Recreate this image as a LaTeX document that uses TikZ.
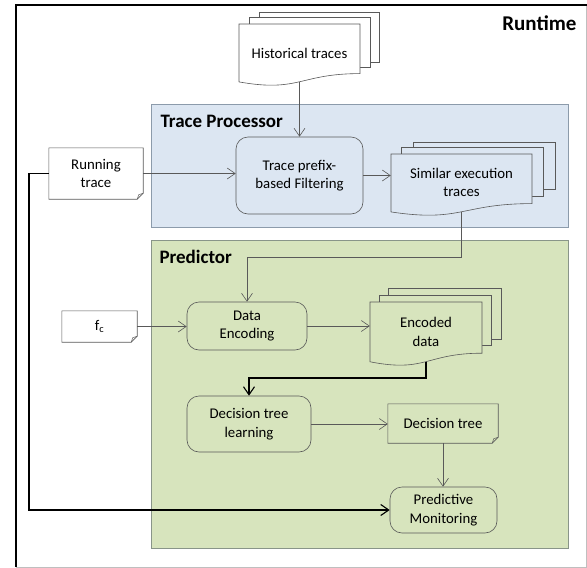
\documentclass[tikz,border=0pt]{standalone}
\usepackage{fontspec}
\setmainfont{Carlito}
\usepackage{tikz}
\usetikzlibrary{arrows.meta}

\definecolor{procblue}{HTML}{DCE6F2}
\definecolor{predgreen}{HTML}{D7E4BD}
\definecolor{edgegray}{HTML}{595959}
\definecolor{panelgray}{HTML}{8C9BAB}

\tikzset{
  every node/.style={font=\fontsize{14.8}{18.5}\selectfont, align=center},
  title/.style={font=\fontsize{19}{22}\selectfont\bfseries},
  roundbox/.style={draw=edgegray, line width=0.6pt, rounded corners=12pt},
  notebox/.style={rectangle, inner sep=0pt},
  doc/.style={draw=edgegray, line width=0.6pt},
  arr/.style={draw=edgegray, line width=0.6pt, -{Straight Barb[length=8pt,width=11pt]}},
  bigarr/.style={draw=black, line width=1.1pt, -{Straight Barb[length=8pt,width=11pt]}}
}

% front page of a document stack: fill, x1, y1, x2, height
\newcommand{\docpage}[5]{%
  \filldraw[doc, fill=#1] (#2,#3) -- (#4,#3) -- ({#4},{#3+0.8*#5})
    .. controls ({(#2+#4)/2},{#3+0.8*#5}) and ({(#2+#4)/2},{#3+1.107*#5}) ..
    ({#2},{#3+0.934*#5}) -- cycle;}

% outline of a note with folded corner: node name, fill
\newcommand{\notefold}[2]{%
  \filldraw[doc, fill=#2] (#1.north west) -- (#1.north east) -- ([yshift=6pt]#1.south east)
    -- ([xshift=-6pt]#1.south east) -- (#1.south west) -- cycle;
  \draw[edgegray, line width=0.5pt] ([yshift=6pt]#1.south east)
    -- ([xshift=-4.5pt,yshift=4.5pt]#1.south east) -- ([xshift=-6pt]#1.south east);}

\begin{document}
\begin{tikzpicture}[x=1pt, y=-1pt]
  \useasboundingbox (0,0) rectangle (587,568);

  % frame
  \draw[black!25, line width=0.8pt] (586,4.5) -- (586,567) -- (15.5,567);
  \draw[line width=2pt] (15.5,567) -- (15.5,4.5) -- (587,4.5);

  % panels
  \filldraw[fill=procblue, draw=panelgray, line width=0.8pt] (151,104) rectangle (568,227);
  \filldraw[fill=predgreen, draw=panelgray!80!olive, line width=0.8pt] (151,240) rectangle (568,548);

  \node[title, anchor=east] (rtlabel) at (580,23) {\fontsize{21}{24}\selectfont Runtime};
  \node[title, anchor=west] (tplabel) at (157,121) {Trace Processor};
  \node[title, anchor=west] (predlabel) at (156,257) {Predictor};

  % document stacks
  \filldraw[doc, fill=white] (259,12) rectangle (379,62);
  \filldraw[doc, fill=white] (249,17) rectangle (370,67);
  \docpage{white}{239}{24}{360}{62}

  \filldraw[doc, fill=procblue] (413,142) rectangle (555,189);
  \filldraw[doc, fill=procblue] (401,147) rectangle (543,196);
  \docpage{procblue}{391}{154}{532}{62}

  \filldraw[doc, fill=predgreen] (388,288) rectangle (501,339);
  \filldraw[doc, fill=predgreen] (379,295) rectangle (491,345);
  \docpage{predgreen}{370}{302}{482}{64}

  \coordinate (histb) at (299.5,81.8);
  \coordinate (simb) at (461.5,211.8);
  \coordinate (encdb) at (426,361.6);
  \coordinate (predrow) at (0,257);
  \coordinate (dtlrow) at (0,378);
  \coordinate (leftrail) at (29,0);

  % notes
  \path (96,173.5) node[notebox, minimum width=94pt, minimum height=51pt] (run) {};
  \path (99.5,326.5) node[notebox, minimum width=75pt, minimum height=31pt] (fc) {};
  \path (443,423.5) node[notebox, minimum width=110pt, minimum height=39pt] (dt) {};
  \notefold{run}{white}
  \notefold{fc}{white}
  \notefold{dt}{predgreen}
  \node at (run) {Running\\trace};
  \node at (fc) {f\textsubscript{c}};
  \node at (dt) {Decision tree};

  % nodes
  \node (hist) at (299.5,53) {Historical traces};
  \node[roundbox, fill=procblue, minimum width=127pt, minimum height=77pt] (filt) at (299.5,175.5) {Trace prefix-\\based Filtering};
  \node[minimum width=141pt] (sim) at (461.5,182.5) {Similar execution\\traces};
  \node[roundbox, fill=predgreen, minimum width=120pt, minimum height=48pt] (enc) at (247,326) {Data\\Encoding};
  \node[minimum width=112pt] (encd) at (426,332) {Encoded\\data};
  \node[roundbox, fill=predgreen, minimum width=124pt, minimum height=56pt] (dtl) at (249,424) {Decision tree\\learning};
  \node[roundbox, fill=predgreen, minimum width=107pt, minimum height=46pt] (pm) at (443.5,510) {Predictive\\Monitoring};

  % connectors
  \draw[arr] (histb) -- (filt.north);
  \draw[arr] (run.east) -- (run.east -| filt.west);
  \draw[arr] (filt.east) -- (filt.east -| sim.west);
  \draw[arr] (simb) |- (predrow -| enc.north) -- (enc.north);
  \draw[arr] (fc.east) -- (fc.east -| enc.west);
  \draw[arr] (enc.east) -- (enc.east -| encd.west);
  \draw[bigarr] (encdb) |- (dtlrow -| dtl.north) -- (dtl.north);
  \draw[arr] (dtl.east) -- (dtl.east -| dt.west);
  \draw[arr] (dt.south) -- (dt.south |- pm.north);
  \draw[bigarr] (run.west) -- (run.west -| leftrail) |- (pm.west);
\end{tikzpicture}
\end{document}
